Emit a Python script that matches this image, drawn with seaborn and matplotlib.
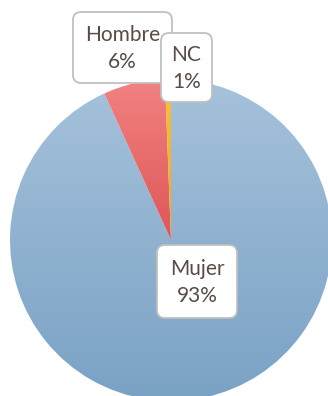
import numpy as np
import matplotlib
matplotlib.use("Agg")
import matplotlib.pyplot as plt
from matplotlib.colors import LinearSegmentedColormap
from matplotlib.patches import FancyBboxPatch
import seaborn as sns

# Respuestas por sexo (porcentaje)
categories = ["Mujer", "Hombre", "NC"]
values = [93.2, 6.2, 0.6]

# Degradado vertical de cada sector (arriba, abajo)
gradients = {
    "Mujer": ("#a6c2db", "#7aa2c5"),
    "Hombre": ("#f28282", "#de5656"),
    "NC": ("#f8c040", "#f0a818"),
}

sns.set_theme(style="white")
plt.rcParams["font.family"] = ["Lato", "DejaVu Sans"]

W, H = 328, 396
fig = plt.figure(figsize=(W / 100, H / 100), dpi=100)
ax = fig.add_axes([0, 0, 1, 1])

cx, cy, r = 171, H - 240, 161
wedges, _ = ax.pie(values, startangle=90, counterclock=False,
                   center=(cx, cy), radius=r,
                   wedgeprops=dict(linewidth=0))

# Rellenar cada sector con un degradado recortado a su forma
for wedge, cat in zip(wedges, categories):
    top, bottom = gradients[cat]
    cmap = LinearSegmentedColormap.from_list(cat, [bottom, top])
    ext = wedge.get_path().get_extents()
    grad = np.linspace(0, 1, 256).reshape(-1, 1)
    img = ax.imshow(grad, cmap=cmap, origin="lower", aspect="auto",
                    extent=(ext.x0, ext.x1, ext.y0, ext.y1),
                    interpolation="bilinear", zorder=1)
    img.set_clip_path(wedge)
    wedge.set_alpha(0)

ax.set_xlim(0, W)
ax.set_ylim(0, H)
ax.set_axis_off()

# Etiquetas: (izquierda, arriba, ancho, alto) en píxeles
label_boxes = {
    "Hombre": (73, 12, 99, 71),
    "NC": (161, 33, 51, 69),
    "Mujer": (157, 245, 80, 73),
}
text_color = "#594b45"
for z, cat in enumerate(["Hombre", "NC", "Mujer"]):
    x0, y0, bw, bh = label_boxes[cat]
    box = FancyBboxPatch((x0, H - y0 - bh), bw, bh,
                         boxstyle="round,pad=0,rounding_size=8",
                         facecolor="white", edgecolor="#c0c0c0",
                         linewidth=1.3, zorder=5 + z)
    ax.add_patch(box)
    pct = values[categories.index(cat)]
    ax.text(x0 + bw / 2, H - y0 - bh / 2 - 1, f"{cat}\n{pct:.0f}%",
            ha="center", va="center", multialignment="center",
            fontsize=15, color=text_color, linespacing=1.4,
            zorder=5 + z)

fig.savefig("out.png", dpi=100)
